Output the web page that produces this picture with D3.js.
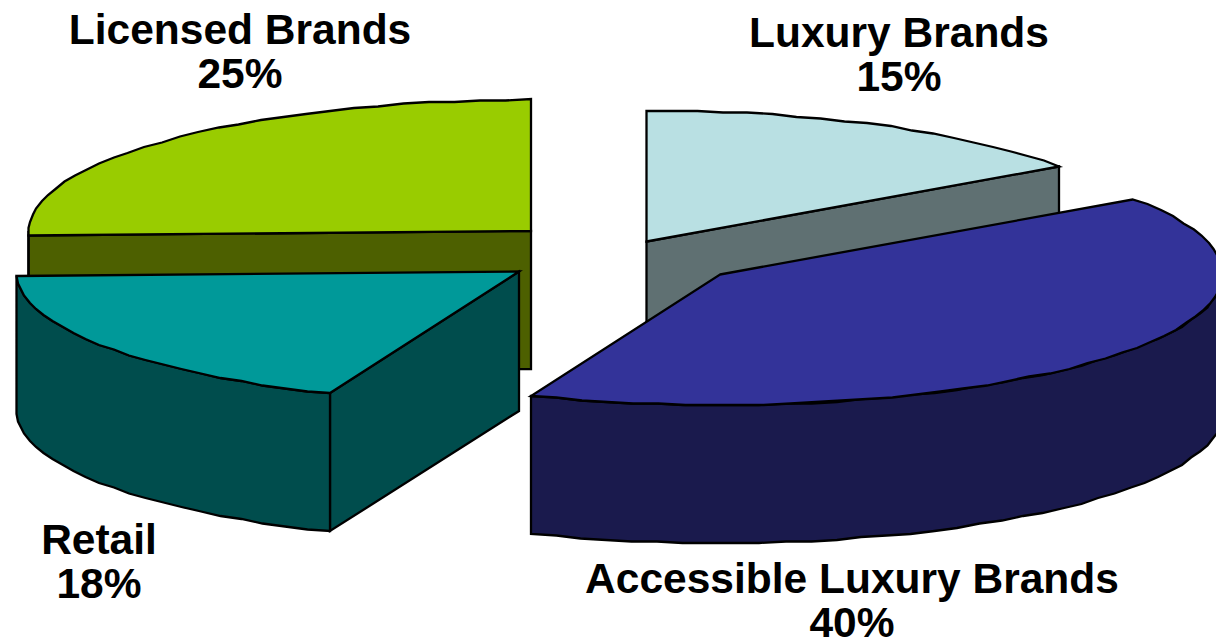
<!DOCTYPE html>
<html>
<head>
<meta charset="utf-8">
<title>Brand portfolio share</title>
<script src="https://cdn.jsdelivr.net/npm/d3@7"></script>
<style>
  html, body { margin: 0; padding: 0; background: #fff; }
  svg { display: block; }
  text { font-family: "Liberation Sans", Arial, sans-serif; font-weight: 700; font-size: 42.5px; fill: #000; text-anchor: middle; }
</style>
</head>
<body>
<svg id="chart" width="1216" height="639"></svg>
<script>
// Segment names and shares, clockwise from twelve o'clock
const categories = ["Luxury Brands", "Accessible Luxury Brands", "Retail", "Licensed Brands"];
const shares = [15, 40, 18, 25];

// Presentation of each segment
const explode = [0.105, 0.25, 0.25, 0.25];
const topColors = ["#B9E0E3", "#333399", "#009999", "#99CC00"];
const wallColors = ["#5F7072", "#1A1A4D", "#004D4D", "#4D6000"];
const labelAnchors = [[899, 47], [852, 593], [99, 554], [240, 44]];
const paintOrder = [0, 3, 2, 1];

const width = 1216, height = 639;
const thickness = 1.054;   // extrusion in pie radii (screen-vertical units)
const arcStep = Math.PI / 60;
const snap = 1.5;          // pixel grid for the rim's faceted look

const x = d3.scaleLinear().domain([-1, 1]).range([119, 1125]);
const y = d3.scaleLinear().domain([-1, 1]).range([122.5, 384.5]);

const svg = d3.select("#chart");
const pie = d3.pie().sort(null).value(d => d);
const slices = pie(shares);

const line = d3.line().curve(d3.curveLinear);

// Projected position on the tilted disc
function project(slice, angle, radius, drop) {
  const mid = (slice.startAngle + slice.endAngle) / 2;
  const e = explode[slice.index];
  const ux = e * Math.sin(mid) + radius * Math.sin(angle);
  const uy = -e * Math.cos(mid) - radius * Math.cos(angle) + (drop ? thickness : 0);
  return [Math.round(x(ux) / snap) * snap, Math.round(y(uy) / snap) * snap];
}

function rimAngles(a0, a1) {
  const n = Math.max(1, Math.ceil((a1 - a0) / arcStep));
  return d3.range(n + 1).map(i => a0 + (a1 - a0) * i / n);
}

const stroke = { color: "#000", width: 2.3 };

function drawFace(g, points, fill) {
  g.append("path")
    .attr("d", line(points) + "Z")
    .attr("fill", fill)
    .attr("stroke", stroke.color)
    .attr("stroke-width", stroke.width)
    .attr("stroke-linejoin", "miter");
}

const groups = svg.selectAll("g.slice")
  .data(paintOrder.map(i => slices.find(s => s.index === i)))
  .join("g")
  .attr("class", "slice");

groups.each(function (s) {
  const g = d3.select(this);
  const wall = wallColors[s.index];
  const a0 = s.startAngle, a1 = s.endAngle;

  // Cut faces that turn towards the viewer
  if (a1 > 0 && a1 < Math.PI) {
    drawFace(g, [project(s, 0, 0, false), project(s, a1, 1, false), project(s, a1, 1, true), project(s, 0, 0, true)], wall);
  }
  if (a0 > Math.PI && a0 < 2 * Math.PI) {
    drawFace(g, [project(s, 0, 0, false), project(s, a0, 1, false), project(s, a0, 1, true), project(s, 0, 0, true)], wall);
  }

  // Outer rim wall, front half of the disc only
  const w0 = Math.max(a0, Math.PI / 2), w1 = Math.min(a1, 3 * Math.PI / 2);
  if (w1 > w0) {
    const rim = rimAngles(w0, w1);
    drawFace(g, [
      ...rim.map(a => project(s, a, 1, false)),
      ...rim.slice().reverse().map(a => project(s, a, 1, true))
    ], wall);
  }

  // Top surface
  drawFace(g, [project(s, 0, 0, false), ...rimAngles(a0, a1).map(a => project(s, a, 1, false))], topColors[s.index]);
});

// Category name and share, two lines each
const labels = svg.selectAll("g.label")
  .data(categories)
  .join("g")
  .attr("class", "label")
  .attr("transform", (d, i) => `translate(${labelAnchors[i][0]},${labelAnchors[i][1]})`);
labels.append("text").text(d => d);
labels.append("text").attr("y", 44).text((d, i) => shares[i] + "%");
</script>
</body>
</html>
